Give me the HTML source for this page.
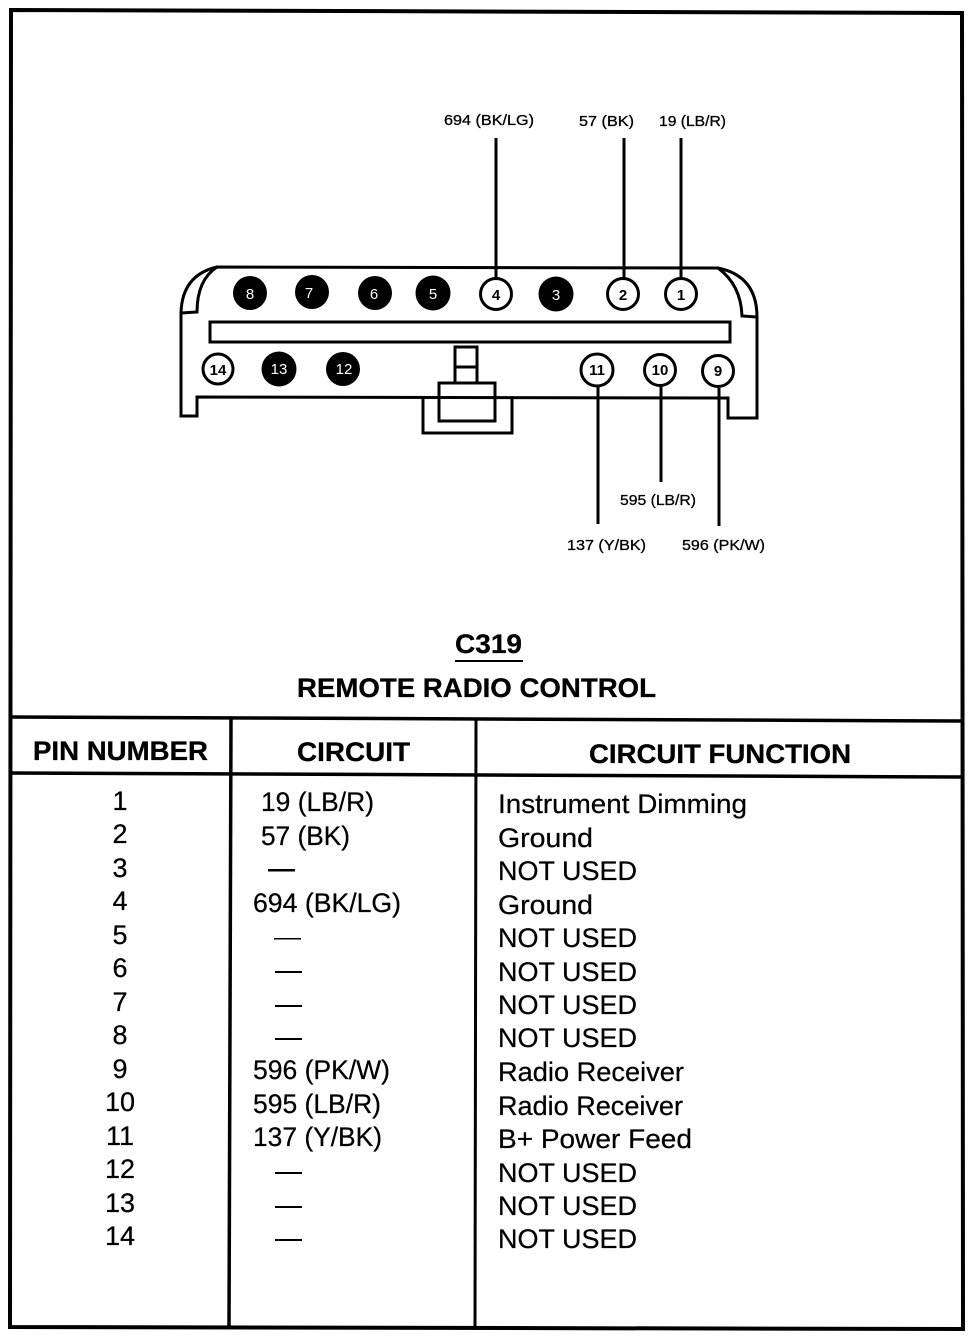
<!DOCTYPE html>
<html><head><meta charset="utf-8"><style>
html,body{margin:0;padding:0;background:#fff}
svg{display:block}
text{font-family:"Liberation Sans",Arial,sans-serif;fill:#000;stroke:#000;stroke-width:.25px}
.h{font-weight:bold;font-size:27px;stroke-width:.3px}
.b{font-size:27px}
.s{font-size:14.5px;stroke-width:.3px}
.p{font-size:15px;text-anchor:middle;font-weight:bold;stroke-width:0}
.w{fill:#fff;stroke:none;font-weight:normal}
</style></head><body>
<svg width="976" height="1340" viewBox="0 0 976 1340" xmlns="http://www.w3.org/2000/svg">
<rect width="976" height="1340" fill="#fff" stroke="none"/>
<g fill="none" stroke="#000">
<path d="M11 10 L962 13 L963 1329 L10 1327 Z" stroke-width="4"/>
<path d="M11 717 L963 721" stroke-width="3.5"/>
<path d="M11 773 L963 777" stroke-width="3.5"/>
<path d="M231 718 L229 1328" stroke-width="3.5"/>
<path d="M476 720 L475 1329" stroke-width="3"/>
<g stroke-width="3">
<path d="M217 267 L718 268 Q757 276 757 317 L757 418 L728 418 L728 398 L197 397 L197 416 L181 416 L181 313 Q182 275 217 267 Z"/>
<path d="M217 267 Q197 280 197 312 L181 313"/>
<path d="M718 268 Q741 285 742 316 L757 317"/>
<rect x="210" y="322" width="520" height="20"/>
<path d="M455 383 L455 347 L477 347 L477 383 M455 367 L477 367"/>
<rect x="439" y="383" width="56" height="38"/>
<path d="M423 398 L423 433 L512 433 L512 398"/>
<path d="M496 138 L496 278 M624 138 L624 278 M681 138 L681 278 M598 386 L598 524 M661 386 L661 482 M719 388 L719 526"/>
</g>
<g stroke-width="3" fill="#fff">
<circle cx="496" cy="294" r="15.5"/><circle cx="623" cy="294" r="15.5"/><circle cx="681" cy="294" r="15.5"/>
<circle cx="218" cy="369" r="15"/><circle cx="597" cy="370" r="16"/><circle cx="660" cy="370" r="15.5"/><circle cx="718" cy="371" r="15.5"/>
</g>
<g fill="#000" stroke="none">
<circle cx="250" cy="293" r="17"/><circle cx="312" cy="292" r="17"/><circle cx="375" cy="293" r="17"/><circle cx="433" cy="293" r="17.5"/><circle cx="556" cy="294" r="17.5"/>
<circle cx="279" cy="369" r="17.5"/><circle cx="343" cy="369" r="17"/>
</g>
</g>
<text class="p" x="496" y="300">4</text><text class="p" x="623" y="300">2</text><text class="p" x="681" y="300">1</text>
<text class="p" x="218" y="375">14</text><text class="p" x="597" y="375">11</text><text class="p" x="660" y="375">10</text><text class="p" x="718" y="376">9</text>
<text class="p w" x="250" y="299">8</text><text class="p w" x="309" y="298">7</text><text class="p w" x="374" y="299">6</text><text class="p w" x="433" y="299">5</text><text class="p w" x="556" y="300">3</text><text class="p w" x="279" y="374">13</text><text class="p w" x="344" y="374">12</text>

<text class="s" x="444" y="125" textLength="90" lengthAdjust="spacingAndGlyphs">694 (BK/LG)</text>
<text class="s" x="579" y="126" textLength="55" lengthAdjust="spacingAndGlyphs">57 (BK)</text>
<text class="s" x="659" y="126" textLength="67" lengthAdjust="spacingAndGlyphs">19 (LB/R)</text>
<text class="s" x="620" y="505" textLength="76" lengthAdjust="spacingAndGlyphs">595 (LB/R)</text>
<text class="s" x="567" y="550" textLength="79" lengthAdjust="spacingAndGlyphs">137 (Y/BK)</text>
<text class="s" x="682" y="550" textLength="83" lengthAdjust="spacingAndGlyphs">596 (PK/W)</text>

<text class="h" x="455" y="653" textLength="67" lengthAdjust="spacingAndGlyphs">C319</text>
<rect x="455" y="660" width="68" height="2" fill="#000"/>
<text class="h" x="297" y="697" textLength="359" lengthAdjust="spacingAndGlyphs">REMOTE RADIO CONTROL</text>
<text class="h" x="33" y="760" textLength="175" lengthAdjust="spacingAndGlyphs">PIN NUMBER</text>
<text class="h" x="297" y="761" textLength="113" lengthAdjust="spacingAndGlyphs">CIRCUIT</text>
<text class="h" x="589" y="763" textLength="262" lengthAdjust="spacingAndGlyphs">CIRCUIT FUNCTION</text>

<g text-anchor="middle">
<text class="b" x="120" y="810">1</text><text class="b" x="120" y="843">2</text><text class="b" x="120" y="877">3</text><text class="b" x="120" y="910">4</text><text class="b" x="120" y="944">5</text><text class="b" x="120" y="977">6</text><text class="b" x="120" y="1011">7</text><text class="b" x="120" y="1044">8</text><text class="b" x="120" y="1078">9</text><text class="b" x="120" y="1111">10</text><text class="b" x="120" y="1145">11</text><text class="b" x="120" y="1178">12</text><text class="b" x="120" y="1212">13</text><text class="b" x="120" y="1245">14</text>
</g>

<text class="b" x="261" y="811" textLength="113" lengthAdjust="spacingAndGlyphs">19 (LB/R)</text>
<text class="b" x="261" y="845" textLength="89" lengthAdjust="spacingAndGlyphs">57 (BK)</text>
<text class="b" x="253" y="912" textLength="148" lengthAdjust="spacingAndGlyphs">694 (BK/LG)</text>
<text class="b" x="253" y="1079" textLength="137" lengthAdjust="spacingAndGlyphs">596 (PK/W)</text>
<text class="b" x="253" y="1113" textLength="128" lengthAdjust="spacingAndGlyphs">595 (LB/R)</text>
<text class="b" x="253" y="1146" textLength="129" lengthAdjust="spacingAndGlyphs">137 (Y/BK)</text>
<g fill="#000">
<rect x="268" y="869" width="27" height="2.5"/>
<rect x="274" y="938" width="27" height="1.5"/>
<rect x="275" y="971" width="27" height="2"/>
<rect x="275" y="1005" width="27" height="2"/>
<rect x="275" y="1038" width="27" height="2"/>
<rect x="275" y="1172" width="27" height="2"/>
<rect x="275" y="1206" width="27" height="2"/>
<rect x="275" y="1239" width="27" height="2"/>
</g>

<text class="b" x="498" y="813" textLength="249" lengthAdjust="spacingAndGlyphs">Instrument Dimming</text>
<text class="b" x="498" y="847" textLength="95" lengthAdjust="spacingAndGlyphs">Ground</text>
<text class="b" x="498" y="880" textLength="139" lengthAdjust="spacingAndGlyphs">NOT USED</text>
<text class="b" x="498" y="914" textLength="95" lengthAdjust="spacingAndGlyphs">Ground</text>
<text class="b" x="498" y="947" textLength="139" lengthAdjust="spacingAndGlyphs">NOT USED</text>
<text class="b" x="498" y="981" textLength="139" lengthAdjust="spacingAndGlyphs">NOT USED</text>
<text class="b" x="498" y="1014" textLength="139" lengthAdjust="spacingAndGlyphs">NOT USED</text>
<text class="b" x="498" y="1047" textLength="139" lengthAdjust="spacingAndGlyphs">NOT USED</text>
<text class="b" x="498" y="1081" textLength="186" lengthAdjust="spacingAndGlyphs">Radio Receiver</text>
<text class="b" x="498" y="1115" textLength="185" lengthAdjust="spacingAndGlyphs">Radio Receiver</text>
<text class="b" x="498" y="1148" textLength="194" lengthAdjust="spacingAndGlyphs">B+ Power Feed</text>
<text class="b" x="498" y="1182" textLength="139" lengthAdjust="spacingAndGlyphs">NOT USED</text>
<text class="b" x="498" y="1215" textLength="139" lengthAdjust="spacingAndGlyphs">NOT USED</text>
<text class="b" x="498" y="1248" textLength="139" lengthAdjust="spacingAndGlyphs">NOT USED</text>
</svg>
</body></html>
